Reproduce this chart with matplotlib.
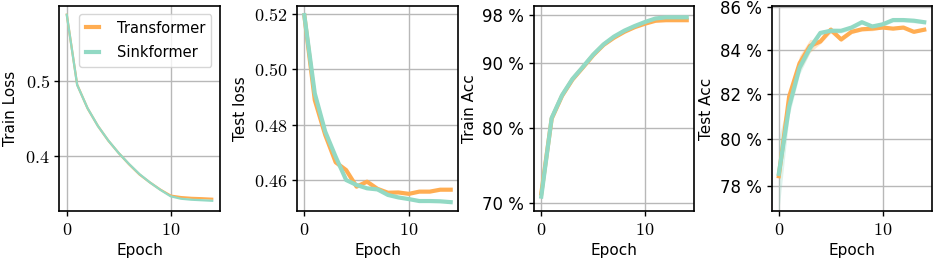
import matplotlib
matplotlib.use("Agg")
import matplotlib.pyplot as plt
import numpy as np
from matplotlib.ticker import FixedLocator, FuncFormatter, NullLocator

plt.rcParams['mathtext.fontset'] = 'cm'
plt.rcParams['font.family'] = ['DejaVu Sans']

epochs = list(range(15))

train_loss_tr = [0.588, 0.495, 0.4635, 0.440, 0.4205, 0.404, 0.389, 0.3755, 0.365, 0.3555, 0.3475, 0.3455, 0.3445, 0.3440, 0.3433]
train_loss_sk = [0.588, 0.4947, 0.4637, 0.440, 0.4207, 0.404, 0.3894, 0.376, 0.365, 0.3552, 0.3465, 0.3433, 0.3420, 0.3413, 0.3406]

test_loss_tr = [0.5195, 0.4889, 0.4763, 0.4664, 0.4636, 0.4576, 0.4594, 0.4568, 0.4554, 0.4555, 0.4550, 0.4558, 0.4558, 0.4565, 0.4565]
test_loss_sk = [0.5196, 0.4913, 0.4775, 0.4684, 0.4600, 0.4582, 0.4570, 0.4566, 0.4546, 0.4537, 0.4531, 0.4524, 0.4524, 0.4523, 0.4520]

train_acc_tr = [71.2, 81.4, 84.8, 87.3, 89.2, 91.2, 92.9, 94.1, 95.1, 95.9, 96.5, 97.0, 97.1, 97.1, 97.1]
train_acc_sk = [70.8, 81.5, 84.9, 87.4, 89.3, 91.3, 93.0, 94.3, 95.3, 96.1, 96.8, 97.4, 97.6, 97.6, 97.6]

test_acc_tr = [78.4, 81.9, 83.4, 84.2, 84.4, 84.95, 84.5, 84.85, 84.97, 85.0, 85.05, 85.0, 85.05, 84.85, 84.95]
test_acc_sk = [78.5, 81.45, 83.2, 84.1, 84.8, 84.9, 84.9, 85.05, 85.3, 85.1, 85.2, 85.4, 85.4, 85.37, 85.3]
test_acc_tr_std = [0.1, 0.2, 0.35, 0.3, 0.1, 0.15, 0.1, 0.08, 0.08, 0.1, 0.05, 0.05, 0.05, 0.05, 0.05]
test_acc_sk_std = [1.6, 0.4, 0.3, 0.2, 0.1, 0.12, 0.1, 0.1, 0.08, 0.08, 0.1, 0.08, 0.08, 0.1, 0.08]

orange = '#FFAD52'
teal = '#92D9C4'

W, H = 934, 264
fig = plt.figure(figsize=(W / 100, H / 100), dpi=100)

boxes = [(59.5, 219.5), (297, 458), (534, 694), (771.5, 931.5)]
top, bot = 6, 211
axes = []
for l, r in boxes:
    ax = fig.add_axes([l / W, (H - bot) / H, (r - l) / W, (bot - top) / H])
    axes.append(ax)

for ax in axes:
    ax.grid(True, color='#b8b8b8', linewidth=1.0)
    ax.set_axisbelow(True)
    for s in ax.spines.values():
        s.set_linewidth(1.2)
        s.set_color('black')
    ax.set_xlabel('Epoch', fontsize=11, labelpad=3)
    ax.set_xticks([0, 10])
    ax.set_xticklabels(['$0$', '$10$'], fontsize=13)
    ax.tick_params(length=3.5, width=1)
    ax.set_xlim(-0.7, 14.7)

# Panel 1
ax = axes[0]
ax.plot(epochs, train_loss_tr, color=orange, lw=1.6, label='Transformer')
ax.plot(epochs, train_loss_sk, color=teal, lw=1.6, label='Sinkformer')
ax.set_ylim(0.327, 0.5996)
ax.set_yticks([0.4, 0.5])
ax.set_yticklabels(['$0.4$', '$0.5$'], fontsize=13)
ax.set_ylabel('Train Loss', fontsize=11, labelpad=5)
leg = ax.legend(loc='upper right', fontsize=10.5, handlelength=0.9, handletextpad=1.2,
                borderpad=0.45, labelspacing=0.65, framealpha=0.8, edgecolor='#cccccc',
                borderaxespad=0.55)
for ln in leg.get_lines():
    ln.set_linewidth(3)

# Panel 2
ax = axes[1]
ax.plot(epochs, test_loss_tr, color=orange, lw=3)
ax.plot(epochs, test_loss_sk, color=teal, lw=3)
ax.set_ylim(0.4488, 0.5229)
ax.set_yticks([0.46, 0.48, 0.50, 0.52])
ax.set_yticklabels(['$0.46$', '$0.48$', '$0.50$', '$0.52$'], fontsize=13)
ax.set_ylabel('Test loss', fontsize=11, labelpad=4)

pct = FuncFormatter(lambda v, p: f'{v:.0f} %')

# Panel 3
ax = axes[2]
ax.set_yscale('log')
ax.plot(epochs, train_acc_tr, color=orange, lw=3)
ax.plot(epochs, train_acc_sk, color=teal, lw=3)
ax.set_ylim(69.0, 99.6)
ax.yaxis.set_major_locator(FixedLocator([70, 80, 90, 98]))
ax.yaxis.set_minor_locator(NullLocator())
ax.yaxis.set_major_formatter(pct)
ax.tick_params(axis='y', labelsize=12)
ax.set_ylabel('Train Acc', fontsize=11, labelpad=4)

# Panel 4
ax = axes[3]
ax.set_yscale('log')
tr = np.array(test_acc_tr); trs = np.array(test_acc_tr_std)
sk = np.array(test_acc_sk); sks = np.array(test_acc_sk_std)
ax.fill_between(epochs, tr - trs, tr + trs, color=orange, alpha=0.3, lw=0)
ax.fill_between(epochs, sk - sks, sk + sks, color=teal, alpha=0.3, lw=0)
ax.plot(epochs, test_acc_tr, color=orange, lw=3)
ax.plot(epochs, test_acc_sk, color=teal, lw=3)
ax.set_ylim(76.92, 86.06)
ax.yaxis.set_major_locator(FixedLocator([78, 80, 82, 84, 86]))
ax.yaxis.set_minor_locator(NullLocator())
ax.yaxis.set_major_formatter(pct)
ax.tick_params(axis='y', labelsize=12)
ax.set_ylabel('Test Acc', fontsize=11, labelpad=4)

fig.savefig('out.png', dpi=100)
